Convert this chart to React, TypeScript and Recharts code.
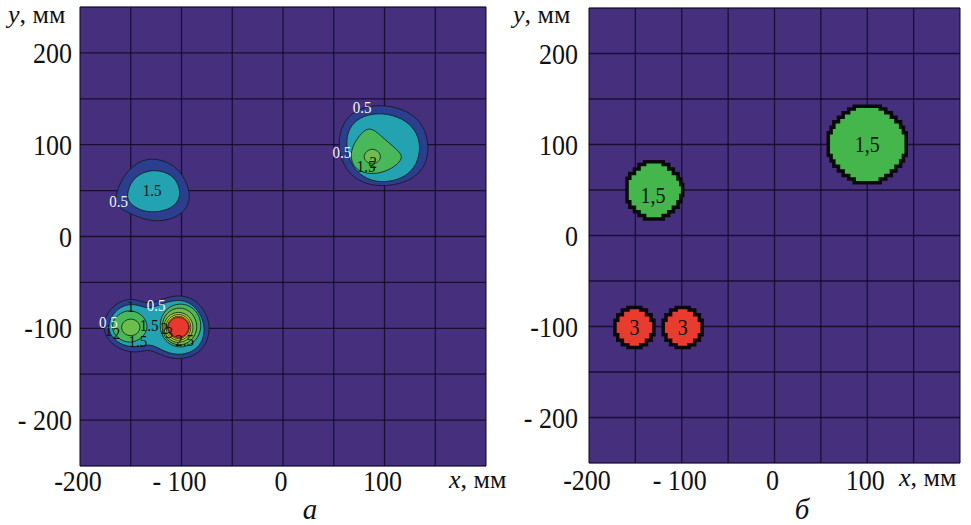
import React from 'react';
import { ScatterChart, Scatter, XAxis, YAxis, CartesianGrid } from 'recharts';

type Pt = [number, number];
type Lbl = [string, number, number];

const xTicks = [-200, -150, -100, -50, 0, 50, 100, 150, 200];
const yTicks = [-250, -200, -150, -100, -50, 0, 50, 100, 150, 200, 250];
const xTickValues = [-200, -100, 0, 100];
const xTickTexts = ['-200', '- 100', '0', '100'];
const yTickValues = [200, 100, 0, -100, -200];
const yTickTexts = ['200', '100', '0', '-100', '- 200'];

// panel а: contour bands (mm), outer band first
const aUpLeftNavy: Pt[] = [[-167, 38], [-160, 62], [-146, 80], [-130, 86], [-111, 81], [-98, 67], [-90, 45], [-96, 27], [-111, 18], [-129, 16], [-147, 23], [-160, 30]];
const aUpLeftTeal: Pt[] = [[-154, 45], [-150, 60], [-139, 70], [-125, 73], [-110, 68], [-102, 56], [-101, 41], [-110, 30], [-126, 26], [-141, 28], [-152, 37]];

const aUpRightNavy: Pt[] = [[54, 105], [60, 127], [75, 140], [96, 144], [119, 139], [136, 126], [144, 104], [142, 80], [130, 63], [108, 55], [87, 55], [68, 64], [57, 83]];
const aUpRightTeal: Pt[] = [[62, 105], [66, 121], [79, 132], [98, 135], [118, 129], [131, 116], [136, 98], [132, 78], [121, 65], [104, 59], [87, 60], [72, 70], [64, 87]];
const aUpRightGreen: Pt[] = [[85, 121], [74, 109], [66, 93], [68, 76], [82, 67], [103, 70], [120, 85], [113, 94], [97, 109]];
const aUpRightCore: Pt[] = [[79, 87], [82, 93], [88, 96], [94, 93], [97, 87], [94, 81], [88, 78], [82, 81]];

const aLowNavy: Pt[] = [[-178, -98], [-173, -82], [-161, -70], [-146, -67], [-132, -75], [-118, -67], [-100, -63], [-84, -70], [-73, -88], [-72, -108], [-80, -126], [-99, -135], [-118, -131], [-131, -122], [-143, -127], [-160, -124], [-173, -113]];
const aLowTeal: Pt[] = [[-173, -98], [-168, -84], [-158, -75], [-145, -73], [-132, -80], [-118, -72], [-100, -68], [-87, -75], [-78, -91], [-77, -108], [-84, -123], [-100, -130], [-117, -126], [-130, -116], [-143, -121], [-158, -119], [-169, -110]];
const aLowLeftGreen: Pt[] = [[-170, -98], [-164, -85], [-151, -79], [-138, -85], [-132, -98], [-138, -111], [-151, -117], [-164, -111]];
const aLowLeftCore: Pt[] = [[-160, -99], [-157, -92], [-150, -89], [-143, -92], [-140, -99], [-143, -106], [-150, -109], [-157, -106]];
const aLowRightGreen: Pt[] = [[-123, -97], [-117, -79], [-101, -71], [-85, -79], [-79, -97], [-85, -115], [-101, -123], [-117, -115]];
const aLowRightG2: Pt[] = [[-121, -98], [-115, -82], [-102, -76], [-89, -82], [-83, -98], [-89, -114], [-102, -120], [-115, -114]];
const aLowRightG3: Pt[] = [[-119, -99], [-114, -86], [-103, -81], [-92, -86], [-87, -99], [-92, -112], [-103, -117], [-114, -112]];
const aLowRightYellow: Pt[] = [[-116.5, -99], [-112.5, -88], [-103, -83.5], [-93.5, -88], [-89.5, -99], [-93.5, -110], [-103, -114.5], [-112.5, -110]];
const aLowRightOrange: Pt[] = [[-115, -99], [-111.5, -89.5], [-103, -85.5], [-94.5, -89.5], [-91, -99], [-94.5, -108.5], [-103, -112.5], [-111.5, -108.5]];
const aLowRightRed: Pt[] = [[-114, -99], [-111, -90.5], [-103, -87], [-95, -90.5], [-92, -99], [-95, -107.5], [-103, -111], [-111, -107.5]];

const aWhiteLabels: Lbl[] = [['0.5', 78, 140], ['0.5', 58, 91], ['0.5', -162, 38], ['0.5', -125, -75], ['0.5', -172, -94]];
const aBlackLabels: Lbl[] = [['1.5', 82, 76], ['2', 89, 81], ['1.5', -129, 50], ['1', -150, -76], ['1', -172, -103], ['2', -164, -106], ['1.5', -143, -115], ['1.5', -132, -97], ['2', -117, -100], ['3', -112, -105], ['2.5', -97, -113]];

// panel б: thresholded zones
const bBigGreen: Pt[] = [[86, 142], [114, 142], [114, 139], [120, 139], [120, 135], [126, 135], [126, 130], [131, 130], [131, 125], [136, 125], [136, 119], [139, 119], [139, 113], [142, 113], [142, 88], [139, 88], [139, 82], [136, 82], [136, 76], [131, 76], [131, 71], [126, 71], [126, 66], [120, 66], [120, 62], [114, 62], [114, 58], [86, 58], [86, 62], [80, 62], [80, 66], [74, 66], [74, 71], [69, 71], [69, 76], [64, 76], [64, 82], [61, 82], [61, 88], [58, 88], [58, 113], [61, 113], [61, 119], [64, 119], [64, 125], [69, 125], [69, 130], [74, 130], [74, 135], [80, 135], [80, 139], [86, 139]];
const bSmallGreen: Pt[] = [[-140, 81], [-120, 81], [-120, 78], [-114, 78], [-114, 73], [-109, 73], [-109, 68], [-104, 68], [-104, 62], [-101, 62], [-101, 56], [-99, 56], [-99, 44], [-101, 44], [-101, 37], [-104, 37], [-104, 31], [-109, 31], [-109, 26], [-114, 26], [-114, 22], [-120, 22], [-120, 18], [-140, 18], [-140, 22], [-146, 22], [-146, 26], [-151, 26], [-151, 31], [-156, 31], [-156, 37], [-159, 37], [-159, 63], [-156, 63], [-156, 68], [-151, 68], [-151, 73], [-146, 73], [-146, 78], [-140, 78]];
const bRedLeft: Pt[] = [[-158, -79], [-144, -79], [-144, -82], [-138, -82], [-138, -87], [-133, -87], [-133, -93], [-130, -93], [-130, -109], [-133, -109], [-133, -115], [-138, -115], [-138, -120], [-144, -120], [-144, -123], [-158, -123], [-158, -120], [-164, -120], [-164, -115], [-169, -115], [-169, -109], [-172, -109], [-172, -93], [-169, -93], [-169, -87], [-164, -87], [-164, -82], [-158, -82]];
const bRedRight: Pt[] = [[-106, -79], [-92, -79], [-92, -82], [-86, -82], [-86, -87], [-81, -87], [-81, -93], [-78, -93], [-78, -109], [-81, -109], [-81, -115], [-86, -115], [-86, -120], [-92, -120], [-92, -123], [-106, -123], [-106, -120], [-112, -120], [-112, -115], [-117, -115], [-117, -109], [-120, -109], [-120, -93], [-117, -93], [-117, -87], [-112, -87], [-112, -82], [-106, -82]];
const bLabels: Lbl[] = [['1,5', 100, 100], ['1,5', -131, 44], ['3', -151, -101], ['3', -99, -101]];

const FONT = "'Liberation Serif', 'Times New Roman', Times, serif";
const BG = '#46307e';
const NAVY = '#2b3f8e';
const TEAL = '#23a2b1';
const GREEN = '#48b85a';
const GREEN2 = '#6cbf4c';
const GREEN3 = '#a3cd3b';
const YELLOW = '#ece23c';
const ORANGE = '#f5a23a';
const RED = '#e8392c';

const aLayers = [
  { pts: aUpLeftNavy, fill: NAVY }, { pts: aUpLeftTeal, fill: TEAL },
  { pts: aUpRightNavy, fill: NAVY }, { pts: aUpRightTeal, fill: TEAL },
  { pts: aUpRightGreen, fill: GREEN }, { pts: aUpRightCore, fill: GREEN2 },
  { pts: aLowNavy, fill: NAVY }, { pts: aLowTeal, fill: TEAL },
  { pts: aLowLeftGreen, fill: GREEN }, { pts: aLowLeftCore, fill: GREEN2 },
  { pts: aLowRightGreen, fill: GREEN }, { pts: aLowRightG2, fill: GREEN2 },
  { pts: aLowRightG3, fill: GREEN3 }, { pts: aLowRightYellow, fill: YELLOW },
  { pts: aLowRightOrange, fill: ORANGE }, { pts: aLowRightRed, fill: RED },
];
const bLayers = [
  { pts: bBigGreen, fill: '#45b64c' }, { pts: bSmallGreen, fill: '#45b64c' },
  { pts: bRedLeft, fill: '#ea3b2f' }, { pts: bRedRight, fill: '#ea3b2f' },
];

const toData = (pts: Pt[]) => pts.map(([x, y]) => ({ x, y }));
const toLabels = (l: Lbl[]) => l.map(([t, x, y]) => ({ x, y, t }));
const NoDot = () => <g />;
const serif = { fontFamily: FONT };

const makeLabel = (size: number, color: string) => (p: any) => (
  <text
    transform={`translate(${p.cx},${p.cy + size * 0.36}) scale(1,1.12)`}
    textAnchor="middle"
    style={serif}
    fontSize={size}
    fill={color}
  >
    {p.payload.t}
  </text>
);

const makeXTick = (baseline: number) => (p: any) => {
  const i = xTickValues.indexOf(p.payload.value);
  if (i < 0) return <g />;
  return (
    <text transform={`translate(${p.x - 2},${baseline}) scale(1,1.12)`} textAnchor="middle" style={serif} fontSize={26} fill="#111">
      {xTickTexts[i]}
    </text>
  );
};

const makeYTick = (gap: number) => (p: any) => {
  const i = yTickValues.indexOf(p.payload.value);
  if (i < 0) return <g />;
  return (
    <text transform={`translate(${p.x - gap},${p.y + 10}) scale(1,1.12)`} textAnchor="end" style={serif} fontSize={26} fill="#111">
      {yTickTexts[i]}
    </text>
  );
};

type PanelProps = {
  left: number;
  width: number;
  margin: { top: number; right: number; bottom: number; left: number };
  layers: { pts: Pt[]; fill: string }[];
  curve: 'basisClosed' | 'linearClosed';
  edge: { stroke: string; strokeWidth: number };
  xBaseline: number;
  yGap: number;
  children?: React.ReactNode;
};

function Panel({ left, width, margin, layers, curve, edge, xBaseline, yGap, children }: PanelProps) {
  return (
    <div style={{ position: 'absolute', left, top: 0 }}>
      <ScatterChart width={width} height={525} margin={margin}>
        <CartesianGrid fill={BG} horizontal={false} vertical={false} />
        <XAxis
          type="number"
          dataKey="x"
          domain={[-200, 200]}
          ticks={xTicks}
          interval={0}
          allowDataOverflow
          axisLine={false}
          tickLine={false}
          tickSize={0}
          tickMargin={0}
          height={40}
          tick={makeXTick(xBaseline)}
        />
        <YAxis
          type="number"
          dataKey="y"
          domain={[-250, 250]}
          ticks={yTicks}
          interval={0}
          allowDataOverflow
          axisLine={false}
          tickLine={false}
          tickSize={0}
          tickMargin={0}
          width={70}
          tick={makeYTick(yGap)}
        />
        {layers.map((l, i) => (
          <Scatter
            key={i}
            data={toData(l.pts)}
            shape={NoDot}
            line={{ fill: l.fill, ...edge }}
            lineType="joint"
            lineJointType={curve}
            isAnimationActive={false}
          />
        ))}
        <CartesianGrid fill="none" stroke="rgba(12,6,30,0.78)" strokeWidth={1.3} />
        {children}
      </ScatterChart>
    </div>
  );
}

export default function App() {
  return (
    <div style={{ position: 'absolute', left: 0, top: 0, width: 971, height: 525, background: '#fff' }}>
      <Panel
        left={0}
        width={500}
        margin={{ top: 7, right: 14, bottom: 19, left: 10 }}
        layers={aLayers}
        curve="basisClosed"
        edge={{ stroke: '#151515', strokeWidth: 0.8 }}
        xBaseline={491}
        yGap={8}
      >
        <Scatter data={toLabels(aWhiteLabels)} shape={makeLabel(15, '#f4f4f8')} isAnimationActive={false} />
        <Scatter data={toLabels(aBlackLabels)} shape={makeLabel(15, '#111')} isAnimationActive={false} />
      </Panel>
      <Panel
        left={480}
        width={491}
        margin={{ top: 8, right: 11, bottom: 22, left: 39 }}
        layers={bLayers}
        curve="linearClosed"
        edge={{ stroke: '#0a0a0a', strokeWidth: 3.5 }}
        xBaseline={490}
        yGap={11}
      >
        <Scatter data={toLabels(bLabels)} shape={makeLabel(20, '#111')} isAnimationActive={false} />
      </Panel>
      <svg width={971} height={525} style={{ position: 'absolute', left: 0, top: 0, pointerEvents: 'none', fontFamily: FONT }}>
        <g fill="#111" fontSize={26}>
          <text x={8} y={23}><tspan fontStyle="italic">y</tspan>, мм</text>
          <text x={513} y={23}><tspan fontStyle="italic">y</tspan>, мм</text>
          <text x={449} y={488}><tspan fontStyle="italic">x</tspan>, мм</text>
          <text x={899} y={486}><tspan fontStyle="italic">x</tspan>, мм</text>
          <text x={310} y={519} textAnchor="middle" fontStyle="italic" fontSize={29}>а</text>
          <text x={802} y={519} textAnchor="middle" fontStyle="italic" fontSize={29}>б</text>
        </g>
      </svg>
    </div>
  );
}
